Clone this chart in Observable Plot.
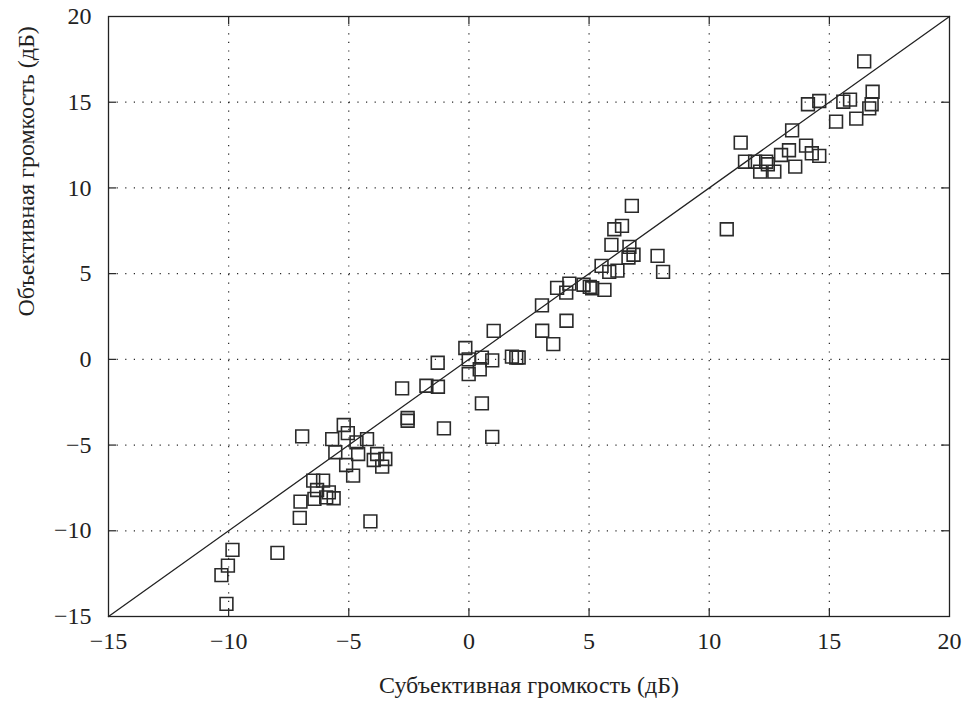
<!DOCTYPE html>
<html>
<head>
<meta charset="utf-8">
<script src="https://cdn.jsdelivr.net/npm/d3@7"></script>
<script src="https://cdn.jsdelivr.net/npm/@observablehq/plot@0.6"></script>
<style>
  html, body { margin: 0; padding: 0; background: #fff; }
</style>
</head>
<body>
<div id="chart"></div>
<script>
// Subjective loudness (dB) — x values of the squares
const subjective = [
  -10.09, -10.30, -10.03, -9.84, -7.97, -7.04, -7.01, -4.10,
  -6.48, -6.07, -6.32, -5.83, -6.43, -5.94, -5.63, -6.94,
  -5.21, -5.04, -5.69, -4.24, -4.68, -5.56, -4.61, -5.11, -4.82,
  -3.82, -3.48, -3.96, -3.61, -2.55, -2.55, -1.04, 0.97, 0.54,
  -2.78, -1.77, -1.29, -1.30, -0.15, -0.01, 0.54, 0.97, 0.45, -0.01,
  1.03, 1.79, 1.97, 2.07, 3.05, 3.04, 4.06, 3.51,
  3.67, 4.18, 4.05, 4.77, 5.03, 5.13, 5.64,
  5.52, 5.84, 6.18, 5.93, 6.05, 6.37, 6.78, 6.68, 6.85, 6.64, 7.85, 8.08, 10.73,
  11.31, 11.49, 11.91, 12.37, 12.44, 12.12, 12.71, 12.99, 13.32, 13.58,
  14.03, 14.27, 14.58, 13.45, 15.28, 16.12, 14.11, 14.58, 15.58, 15.86,
  16.80, 16.76, 16.66, 16.45
];
// Objective loudness (dB) — y values of the squares
const objective = [
  -14.26, -12.59, -12.03, -11.11, -11.29, -9.25, -8.30, -9.45,
  -7.07, -7.07, -7.62, -7.76, -8.14, -8.05, -8.10, -4.49,
  -3.83, -4.30, -4.65, -4.65, -4.84, -5.42, -5.52, -6.16, -6.78,
  -5.52, -5.81, -5.87, -6.26, -3.42, -3.58, -4.03, -4.52, -2.57,
  -1.69, -1.54, -1.60, -0.20, 0.66, 0.00, 0.10, -0.06, -0.58, -0.86,
  1.66, 0.16, 0.11, 0.11, 1.67, 3.15, 2.25, 0.89,
  4.17, 4.42, 3.89, 4.35, 4.23, 4.15, 4.05,
  5.45, 5.10, 5.18, 6.68, 7.59, 7.79, 8.95, 6.56, 6.10, 5.94, 6.04, 5.10, 7.59,
  12.64, 11.53, 11.53, 11.53, 11.38, 10.95, 10.95, 11.92, 12.20, 11.24,
  12.47, 12.02, 11.87, 13.36, 13.87, 14.04, 14.88, 15.07, 15.03, 15.15,
  15.61, 14.88, 14.64, 17.38
];

const xTicks = [-15, -10, -5, 0, 5, 10, 15, 20];
const yTicks = [-15, -10, -5, 0, 5, 10, 15, 20];
const gridValues = [-10, -5, 0, 5, 10, 15];
const identityLine = [-15, 20];
const xTitle = "Субъективная громкость (дБ)";
const yTitle = "Объективная громкость (дБ)";

const points = subjective.map((x, i) => ({x, y: objective[i]}));
const fmt = d => (d < 0 ? "\u2212" + Math.abs(d) : String(d));

const W = 967, H = 701;
const mL = 108, mR = 18, mT = 16, mB = 85;
const innerW = W - mL - mR, innerH = H - mT - mB;
const tickLen = 8;
const ink = "#222";
const serif = "Liberation Serif, Times New Roman, serif";

const chart = Plot.plot({
  width: W,
  height: H,
  marginLeft: mL,
  marginRight: mR,
  marginTop: mT,
  marginBottom: mB,
  style: {fontFamily: serif, fontSize: "24px", color: ink, background: "#fff"},
  x: {domain: [-15, 20], ticks: xTicks, tickFormat: fmt, tickSize: 0, tickPadding: 15, label: null},
  y: {domain: [-15, 20], ticks: yTicks, tickFormat: fmt, tickSize: 0, tickPadding: 17, label: null},
  marks: [
    Plot.gridX(gridValues, {stroke: "#000", strokeOpacity: 0.85, strokeWidth: 1.2, strokeDasharray: "1.2,7.4"}),
    Plot.gridY(gridValues, {stroke: "#000", strokeOpacity: 0.85, strokeWidth: 1.2, strokeDasharray: "1.2,7.4"}),
    Plot.tickX(gridValues, {x: d => d, insetTop: innerH - tickLen, stroke: ink, strokeWidth: 1.2}),
    Plot.tickX(gridValues, {x: d => d, insetBottom: innerH - tickLen, stroke: ink, strokeWidth: 1.2}),
    Plot.tickY(gridValues, {y: d => d, insetRight: innerW - tickLen, stroke: ink, strokeWidth: 1.2}),
    Plot.tickY(gridValues, {y: d => d, insetLeft: innerW - tickLen, stroke: ink, strokeWidth: 1.2}),
    Plot.line(identityLine, {x: d => d, y: d => d, stroke: ink, strokeWidth: 1.3}),
    Plot.dot(points, {x: "x", y: "y", symbol: "square", r: 7.2, stroke: "#2a2a2a", strokeWidth: 1.6, fill: "none"}),
    Plot.frame({stroke: ink, strokeWidth: 1.3}),
    Plot.text([xTitle], {frameAnchor: "bottom", dy: 76, text: d => d, fontSize: 24, fill: ink}),
    Plot.text([yTitle], {frameAnchor: "left", dx: -82, rotate: -90, text: d => d, fontSize: 24, fill: ink})
  ]
});

document.getElementById("chart").appendChild(chart);
</script>
</body>
</html>
